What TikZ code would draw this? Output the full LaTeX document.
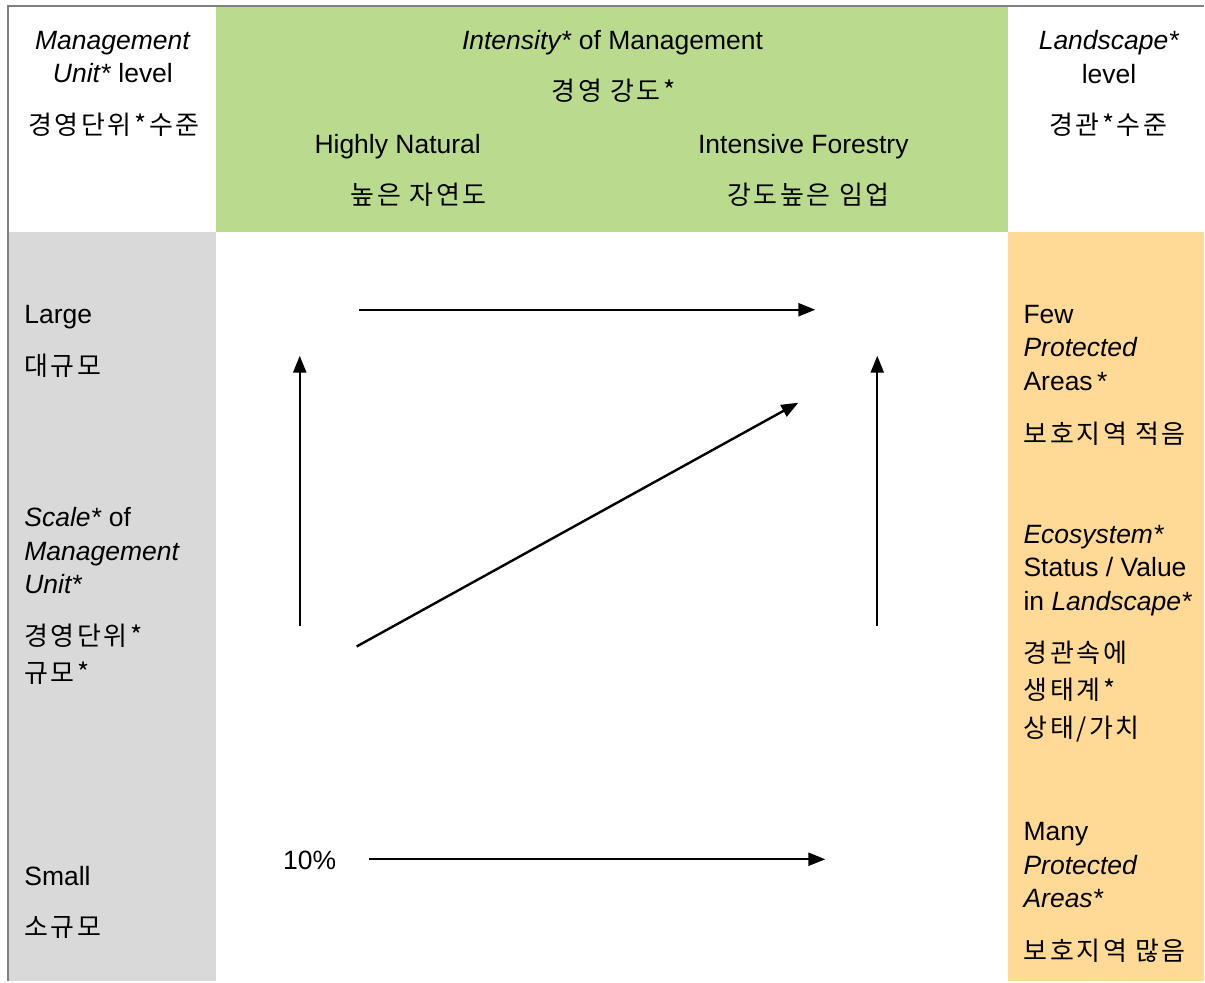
\documentclass[tikz,border=0pt]{standalone}
\usepackage{fontspec}
\setmainfont{Liberation Sans}
\newfontfamily\krfont[LetterSpace=10]{Noto Sans CJK KR}
\usetikzlibrary{arrows.meta, positioning}
\definecolor{headcolor}{RGB}{186, 219, 141}
\definecolor{scalecolor}{RGB}{217, 217, 217}
\definecolor{landcolor}{RGB}{255, 218, 150}
\definecolor{framecolor}{RGB}{128, 128, 128}

\begin{document}
\begin{tikzpicture}[
    x=0.5pt, y=-0.5pt,
    >={Triangle[length=8.5pt, width=6.5pt]},
    en/.style={inner sep=0pt, font=\fontsize{13.25}{16.75}\selectfont, align=left},
    kr/.style={inner sep=0pt, font=\fontsize{13}{18.75}\selectfont\krfont, align=left},
    arrow/.style={->, line width=1.2pt}
]

% ========== CELLS ==========
\fill[white] (0,0) rectangle (1205,982);
\fill[headcolor] (216,7) rectangle (1009,232);
\fill[scalecolor] (9,232) rectangle (216,982);
\fill[landcolor] (1009,232) rectangle (1205,982);
\draw[framecolor, line width=1pt] (8.5,982) -- (8.5,6.5) -- (1205,6.5);

% ========== HEADER ==========
\node[en, align=center] (muEn) at (113,57) {\textit{Management}\\\textit{Unit*} level};
\node[kr] (muKr) at (114,125) {경영단위*수준};

\node[en] (intEn) at (613,43) {\textit{Intensity*} of Management};
\node[kr] (intKr) at (614,91) {경영 강도*};
\node[en] (natEn) at (398,147) {Highly Natural};
\node[kr] (natKr) at (419,195) {높은 자연도};
\node[en] (forEn) at (804,147) {Intensive Forestry};
\node[kr] (forKr) at (809,195) {강도높은 임업};

\node[en, align=center] (lsEn) at (1110,57) {\textit{Landscape*}\\level};
\node[kr] (lsKr) at (1109,125) {경관*수준};

% ========== SCALE COLUMN ==========
\node[en, anchor=west] (largeEn) at (24,317) {Large};
\node[kr, anchor=west] (largeKr) at (24,366) {대규모};
\node[en, anchor=west] (scaleEn) at (24,551) {\textit{Scale*} of\\\textit{Management}\\\textit{Unit*}};
\node[kr, anchor=west] (scaleKr) at (24,655) {경영단위*\\규모*};
\node[en, anchor=west] (smallEn) at (24,877) {Small};
\node[kr, anchor=west] (smallKr) at (24,928) {소규모};

% ========== LANDSCAPE COLUMN ==========
\node[en, anchor=west] (fewEn) at (1024,348) {Few\\\textit{Protected}\\Areas\,*};
\node[kr, anchor=west] (fewKr) at (1024,434) {보호지역 적음};
\node[en, anchor=west] (ecoEn) at (1024,571) {\textit{Ecosystem*}\\Status / Value\\in \textit{Landscape*}};
\node[kr, anchor=west] (ecoKr) at (1024,692) {경관속에\\생태계*\\상태/가치};
\node[en, anchor=west] (manyEn) at (1024,866) {Many\\\textit{Protected}\\\textit{Areas*}};
\node[kr, anchor=west] (manyKr) at (1024,952) {보호지역 많음};

% ========== ARROWS ==========
\node[en] (pct) at (310,861) {10\%};

\coordinate (topS) at (359,310);
\coordinate (topE) at (816,310);
\coordinate (leftS) at (300,627);
\coordinate (leftE) at (300,356);
\coordinate (rightS) at (878,627);
\coordinate (rightE) at (878,356);
\coordinate (diagS) at (357,647);
\coordinate (diagE) at (799,403);
\coordinate (botS) at (369,860);
\coordinate (botE) at (826,860);

\draw[arrow] (topS) -- (topE);
\draw[arrow] (leftS) -- (leftE);
\draw[arrow] (rightS) -- (rightE);
\draw[arrow] (diagS) -- (diagE);
\draw[arrow] (botS) -- (botE);

\end{tikzpicture}
\end{document}
